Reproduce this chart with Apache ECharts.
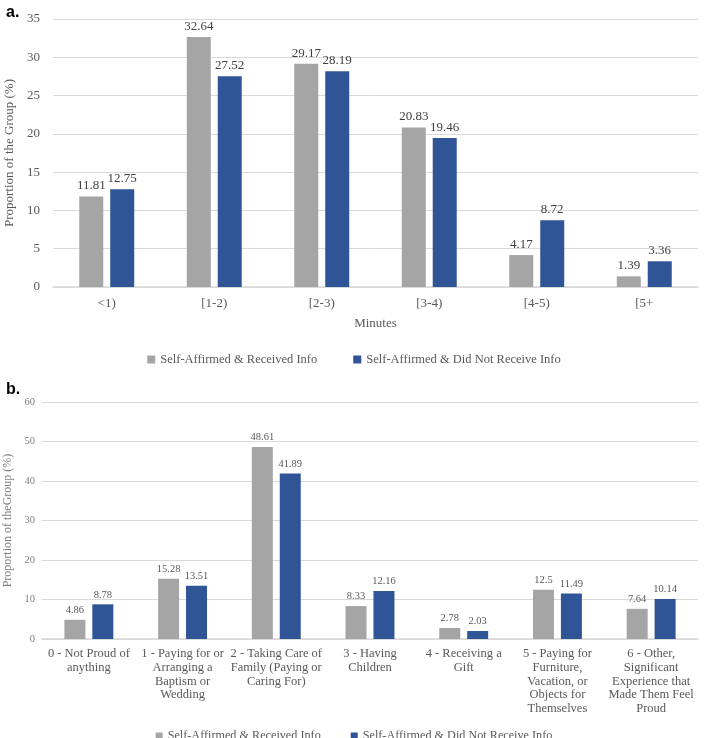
<!DOCTYPE html>
<html>
<head>
<meta charset="utf-8">
<script src="https://cdn.jsdelivr.net/npm/echarts@6/dist/echarts.min.js"></script>
<style>html,body{margin:0;padding:0;background:#fff;}#c{width:708px;height:738px;}</style>
</head>
<body>
<div id="c"></div>
<script>
// ---- Data ----
var seriesNames = ['Self-Affirmed & Received Info', 'Self-Affirmed & Did Not Receive Info'];

var catsA = ['<1)', '[1-2)', '[2-3)', '[3-4)', '[4-5)', '[5+'];
var receivedA = [11.81, 32.64, 29.17, 20.83, 4.17, 1.39];
var notReceivedA = [12.75, 27.52, 28.19, 19.46, 8.72, 3.36];

var catsB = [
  '0 - Not Proud of\nanything',
  '1 - Paying for or\nArranging a\nBaptism or\nWedding',
  '2 - Taking Care of\nFamily (Paying or\nCaring For)',
  '3 - Having\nChildren',
  '4 - Receiving a\nGift',
  '5 - Paying for\nFurniture,\nVacation, or\nObjects for\nThemselves',
  '6 - Other,\nSignificant\nExperience that\nMade Them Feel\nProud'
];
var receivedB = [4.86, 15.28, 48.61, 8.33, 2.78, 12.5, 7.64];
var notReceivedB = [8.78, 13.51, 41.89, 12.16, 2.03, 11.49, 10.14];

// ---- Chart ----
var FONT = '"Liberation Serif", serif';
var GREY = '#A5A5A5', BLUE = '#2F5597';
var chart = echarts.init(document.getElementById('c'), null, {renderer: 'canvas'});

function lbl(size, color) {
  return {show: true, position: 'top', distance: 4, fontFamily: FONT, fontSize: size, color: color};
}

chart.setOption({
  animation: false,
  backgroundColor: '#fff',
  color: [GREY, BLUE],
  title: [
    {text: 'a.', left: 1, top: 0, textStyle: {fontFamily: 'Liberation Sans, Arial, sans-serif', fontWeight: 'bold', fontSize: 16, color: '#000'}},
    {text: 'b.', left: 1, top: 377, textStyle: {fontFamily: 'Liberation Sans, Arial, sans-serif', fontWeight: 'bold', fontSize: 16, color: '#000'}}
  ],
  legend: [
    {data: seriesNames, top: 348, left: 'center', itemWidth: 8, itemHeight: 8, itemGap: 36, icon: 'rect',
     textStyle: {fontFamily: FONT, fontSize: 12.5, color: '#595959'}},
    {data: seriesNames, top: 725, left: 'center', itemWidth: 7, itemHeight: 7, itemGap: 30, icon: 'rect',
     textStyle: {fontFamily: FONT, fontSize: 12.2, color: '#595959'}}
  ],
  grid: [
    {left: 53, right: 10, top: 19, height: 268, outerBoundsMode: 'none'},
    {left: 42, right: 10, top: 402, height: 237, outerBoundsMode: 'none'}
  ],
  xAxis: [
    {gridIndex: 0, type: 'category', data: catsA,
     name: 'Minutes', nameLocation: 'middle', nameGap: 30,
     nameTextStyle: {fontFamily: FONT, fontSize: 13, color: '#595959'},
     axisLine: {lineStyle: {color: '#D9D9D9', width: 1.5}}, axisTick: {show: false},
     axisLabel: {fontFamily: FONT, fontSize: 13, color: '#595959', margin: 10}},
    {gridIndex: 1, type: 'category', data: catsB,
     axisLine: {lineStyle: {color: '#D9D9D9', width: 1.5}}, axisTick: {show: false},
     axisLabel: {fontFamily: FONT, fontSize: 12.5, color: '#595959', margin: 8, lineHeight: 13.7, interval: 0}}
  ],
  yAxis: [
    {gridIndex: 0, type: 'value', min: 0, max: 35, interval: 5,
     name: 'Proportion of the Group (%)', nameLocation: 'middle', nameGap: 31,
     nameTextStyle: {fontFamily: FONT, fontSize: 13, color: '#595959'},
     axisLine: {show: false}, axisTick: {show: false},
     axisLabel: {fontFamily: FONT, fontSize: 13, color: '#595959', margin: 13},
     splitLine: {lineStyle: {color: '#D9D9D9'}}},
    {gridIndex: 1, type: 'value', min: 0, max: 60, interval: 10,
     name: 'Proportion of theGroup (%)', nameLocation: 'middle', nameGap: 28,
     nameTextStyle: {fontFamily: FONT, fontSize: 12, color: '#7F7F7F'},
     axisLine: {show: false}, axisTick: {show: false},
     axisLabel: {fontFamily: FONT, fontSize: 10.5, color: '#7F7F7F', margin: 7},
     splitLine: {lineStyle: {color: '#D9D9D9'}}}
  ],
  series: [
    {name: seriesNames[0], type: 'bar', xAxisIndex: 0, yAxisIndex: 0, data: receivedA,
     barWidth: 24, barGap: '29%', itemStyle: {color: GREY}, label: lbl(13, '#404040')},
    {name: seriesNames[1], type: 'bar', xAxisIndex: 0, yAxisIndex: 0, data: notReceivedA,
     barWidth: 24, barGap: '29%', itemStyle: {color: BLUE}, label: lbl(13, '#404040')},
    {name: seriesNames[0], type: 'bar', xAxisIndex: 1, yAxisIndex: 1, data: receivedB,
     barWidth: 21, barGap: '33%', itemStyle: {color: GREY}, label: lbl(10.5, '#595959')},
    {name: seriesNames[1], type: 'bar', xAxisIndex: 1, yAxisIndex: 1, data: notReceivedB,
     barWidth: 21, barGap: '33%', itemStyle: {color: BLUE}, label: lbl(10.5, '#595959')}
  ]
});
</script>
</body>
</html>
